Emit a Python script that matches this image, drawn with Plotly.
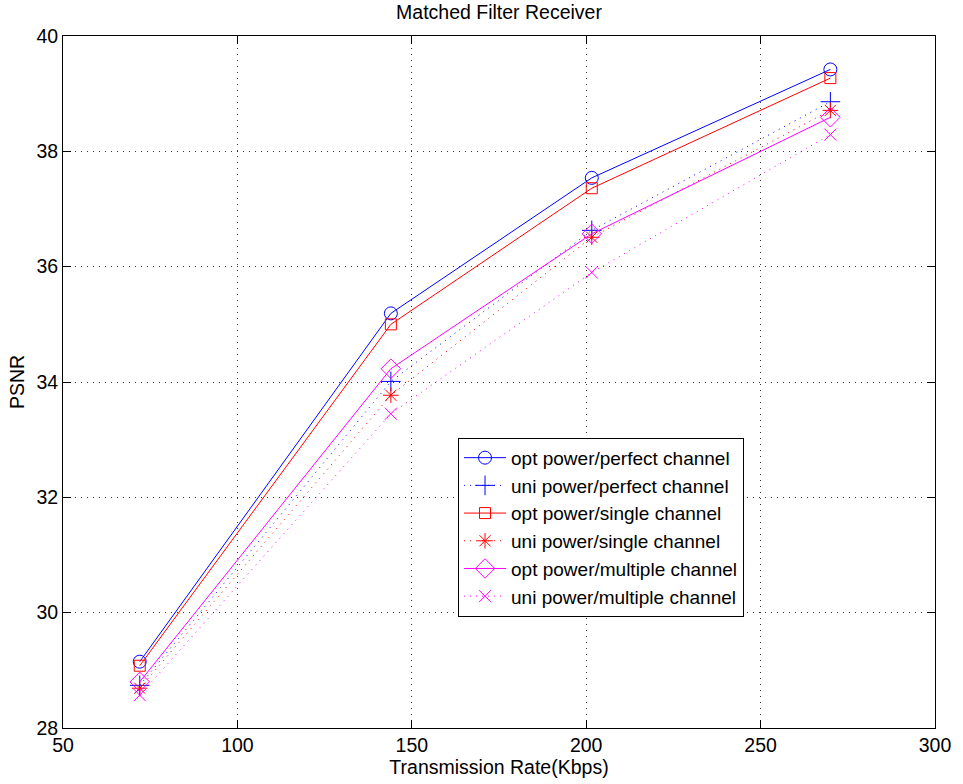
import plotly.graph_objects as go

rates = [72, 144, 201.6, 270]
opt_perfect = [29.15, 35.19, 37.54, 39.42]
uni_perfect = [28.74, 34.01, 36.63, 38.86]
opt_single = [29.08, 35.0, 37.36, 39.27]
uni_single = [28.69, 33.77, 36.51, 38.71]
opt_multiple = [28.8, 34.23, 36.57, 38.59]
uni_multiple = [28.57, 33.45, 35.9, 38.29]

names = ["opt power/perfect channel", "uni power/perfect channel",
         "opt power/single channel", "uni power/single channel",
         "opt power/multiple channel", "uni power/multiple channel"]
series = [opt_perfect, uni_perfect, opt_single, uni_single, opt_multiple, uni_multiple]
colors = ["#0000ff", "#0000ff", "#ff0000", "#ff0000", "#ff00ff", "#ff00ff"]
dashes = ["solid", "1px,5px", "solid", "1px,5px", "solid", "1px,5px"]
symbols = ["circle-open", "cross-thin-open", "square-open", "asterisk-open", "diamond-open", "x-thin-open"]
sizes = [13, 14, 11, 13, 15, 12]

FS = 19.5

fig = go.Figure()
for n, s, c, d, sym, sz in zip(names, series, colors, dashes, symbols, sizes):
    fig.add_trace(go.Scatter(
        x=rates, y=s, name=n, mode="lines+markers",
        line=dict(color=c, width=1, dash=d),
        marker=dict(symbol=sym, size=sz, color=c, line=dict(color=c, width=1)),
    ))

axis_common = dict(
    showline=True, linecolor="black", linewidth=1, mirror="ticks",
    ticks="inside", ticklen=8, tickcolor="black",
    showgrid=True, gridcolor="#333333", gridwidth=1, griddash="1px,5px",
    zeroline=False, tickfont=dict(size=FS, color="black"),
)
fig.update_xaxes(range=[50, 300], dtick=50, tick0=50,
                 title=dict(text="Transmission Rate(Kbps)", font=dict(size=FS, color="black"), standoff=2),
                 **axis_common)
fig.update_yaxes(range=[28, 40], dtick=2, tick0=28,
                 title=dict(text="PSNR", font=dict(size=FS, color="black"), standoff=6),
                 **axis_common)

fig.update_layout(
    width=963, height=784,
    margin=dict(l=63, r=20, t=36, b=55),
    paper_bgcolor="white", plot_bgcolor="white",
    font=dict(family="Liberation Sans, Arial, sans-serif", color="black"),
    title=dict(text="Matched Filter Receiver", x=0.5, xref="paper", xanchor="center",
               y=1 - 12 / 784, yanchor="middle", font=dict(size=FS, color="black")),
    legend=dict(x=0.453, y=0.29, xanchor="left", yanchor="middle",
                bgcolor="white", bordercolor="black", borderwidth=1,
                font=dict(size=19, color="black"), tracegroupgap=0,
                itemwidth=42),
    showlegend=True,
)

fig.write_html("out.html")
